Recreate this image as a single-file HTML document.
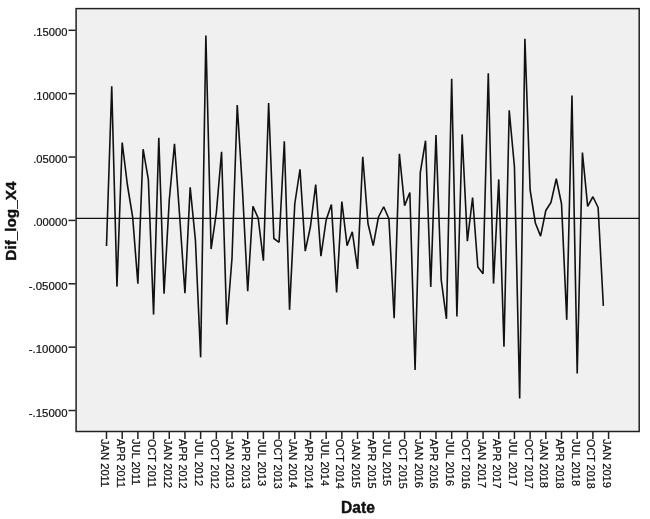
<!DOCTYPE html>
<html><head><meta charset="utf-8"><title>Dif_log_X4 sequence chart</title>
<style>html,body{margin:0;padding:0;background:#fff}svg{display:block}text{font-family:"Liberation Sans",sans-serif;fill:#111;stroke:#111;stroke-width:0.22px}text.t{stroke-width:0.4px}</style>
</head><body>
<svg width="650" height="519" viewBox="0 0 650 519">
<rect width="650" height="519" fill="#ffffff"/>
<g opacity="0.999">
<rect x="76.1" y="8.6" width="563.1" height="422.9" fill="#f0f0f0" stroke="#222" stroke-width="1.5"/>
<line x1="68.50" y1="30.30" x2="75.6" y2="30.30" stroke="#222" stroke-width="1.5"/>
<text transform="translate(67.5,36.30) scale(0.949,1)" font-size="11.8" text-anchor="end">.15000</text>
<line x1="68.50" y1="93.67" x2="75.6" y2="93.67" stroke="#222" stroke-width="1.5"/>
<text transform="translate(67.5,99.67) scale(0.949,1)" font-size="11.8" text-anchor="end">.10000</text>
<line x1="68.50" y1="157.04" x2="75.6" y2="157.04" stroke="#222" stroke-width="1.5"/>
<text transform="translate(67.5,163.04) scale(0.949,1)" font-size="11.8" text-anchor="end">.05000</text>
<line x1="68.50" y1="220.41" x2="75.6" y2="220.41" stroke="#222" stroke-width="1.5"/>
<text transform="translate(67.5,226.41) scale(0.949,1)" font-size="11.8" text-anchor="end">.00000</text>
<line x1="68.50" y1="283.78" x2="75.6" y2="283.78" stroke="#222" stroke-width="1.5"/>
<text transform="translate(67.5,289.78) scale(0.968,1)" font-size="11.8" text-anchor="end">-.05000</text>
<line x1="68.50" y1="347.15" x2="75.6" y2="347.15" stroke="#222" stroke-width="1.5"/>
<text transform="translate(67.5,353.15) scale(0.968,1)" font-size="11.8" text-anchor="end">-.10000</text>
<line x1="68.50" y1="410.52" x2="75.6" y2="410.52" stroke="#222" stroke-width="1.5"/>
<text transform="translate(67.5,416.52) scale(0.968,1)" font-size="11.8" text-anchor="end">-.15000</text>
<line x1="106.50" y1="431.5" x2="106.50" y2="439.0" stroke="#222" stroke-width="1.5"/>
<text transform="translate(100.95,439.0) rotate(90) scale(0.972,1)" font-size="11.5">JAN 2011</text>
<line x1="122.19" y1="431.5" x2="122.19" y2="439.0" stroke="#222" stroke-width="1.5"/>
<text transform="translate(116.64,439.0) rotate(90) scale(0.947,1)" font-size="11.5">APR 2011</text>
<line x1="137.88" y1="431.5" x2="137.88" y2="439.0" stroke="#222" stroke-width="1.5"/>
<text transform="translate(132.33,439.0) rotate(90) scale(0.965,1)" font-size="11.5">JUL 2011</text>
<line x1="153.57" y1="431.5" x2="153.57" y2="439.0" stroke="#222" stroke-width="1.5"/>
<text transform="translate(148.02,439.0) rotate(90) scale(0.94,1)" font-size="11.5">OCT 2011</text>
<line x1="169.26" y1="431.5" x2="169.26" y2="439.0" stroke="#222" stroke-width="1.5"/>
<text transform="translate(163.71,439.0) rotate(90) scale(0.972,1)" font-size="11.5">JAN 2012</text>
<line x1="184.95" y1="431.5" x2="184.95" y2="439.0" stroke="#222" stroke-width="1.5"/>
<text transform="translate(179.40,439.0) rotate(90) scale(0.947,1)" font-size="11.5">APR 2012</text>
<line x1="200.64" y1="431.5" x2="200.64" y2="439.0" stroke="#222" stroke-width="1.5"/>
<text transform="translate(195.09,439.0) rotate(90) scale(0.965,1)" font-size="11.5">JUL 2012</text>
<line x1="216.33" y1="431.5" x2="216.33" y2="439.0" stroke="#222" stroke-width="1.5"/>
<text transform="translate(210.78,439.0) rotate(90) scale(0.94,1)" font-size="11.5">OCT 2012</text>
<line x1="232.02" y1="431.5" x2="232.02" y2="439.0" stroke="#222" stroke-width="1.5"/>
<text transform="translate(226.47,439.0) rotate(90) scale(0.972,1)" font-size="11.5">JAN 2013</text>
<line x1="247.71" y1="431.5" x2="247.71" y2="439.0" stroke="#222" stroke-width="1.5"/>
<text transform="translate(242.16,439.0) rotate(90) scale(0.947,1)" font-size="11.5">APR 2013</text>
<line x1="263.40" y1="431.5" x2="263.40" y2="439.0" stroke="#222" stroke-width="1.5"/>
<text transform="translate(257.85,439.0) rotate(90) scale(0.965,1)" font-size="11.5">JUL 2013</text>
<line x1="279.09" y1="431.5" x2="279.09" y2="439.0" stroke="#222" stroke-width="1.5"/>
<text transform="translate(273.54,439.0) rotate(90) scale(0.94,1)" font-size="11.5">OCT 2013</text>
<line x1="294.78" y1="431.5" x2="294.78" y2="439.0" stroke="#222" stroke-width="1.5"/>
<text transform="translate(289.23,439.0) rotate(90) scale(0.972,1)" font-size="11.5">JAN 2014</text>
<line x1="310.47" y1="431.5" x2="310.47" y2="439.0" stroke="#222" stroke-width="1.5"/>
<text transform="translate(304.92,439.0) rotate(90) scale(0.947,1)" font-size="11.5">APR 2014</text>
<line x1="326.16" y1="431.5" x2="326.16" y2="439.0" stroke="#222" stroke-width="1.5"/>
<text transform="translate(320.61,439.0) rotate(90) scale(0.965,1)" font-size="11.5">JUL 2014</text>
<line x1="341.85" y1="431.5" x2="341.85" y2="439.0" stroke="#222" stroke-width="1.5"/>
<text transform="translate(336.30,439.0) rotate(90) scale(0.94,1)" font-size="11.5">OCT 2014</text>
<line x1="357.54" y1="431.5" x2="357.54" y2="439.0" stroke="#222" stroke-width="1.5"/>
<text transform="translate(351.99,439.0) rotate(90) scale(0.972,1)" font-size="11.5">JAN 2015</text>
<line x1="373.23" y1="431.5" x2="373.23" y2="439.0" stroke="#222" stroke-width="1.5"/>
<text transform="translate(367.68,439.0) rotate(90) scale(0.947,1)" font-size="11.5">APR 2015</text>
<line x1="388.92" y1="431.5" x2="388.92" y2="439.0" stroke="#222" stroke-width="1.5"/>
<text transform="translate(383.37,439.0) rotate(90) scale(0.965,1)" font-size="11.5">JUL 2015</text>
<line x1="404.61" y1="431.5" x2="404.61" y2="439.0" stroke="#222" stroke-width="1.5"/>
<text transform="translate(399.06,439.0) rotate(90) scale(0.94,1)" font-size="11.5">OCT 2015</text>
<line x1="420.30" y1="431.5" x2="420.30" y2="439.0" stroke="#222" stroke-width="1.5"/>
<text transform="translate(414.75,439.0) rotate(90) scale(0.972,1)" font-size="11.5">JAN 2016</text>
<line x1="435.99" y1="431.5" x2="435.99" y2="439.0" stroke="#222" stroke-width="1.5"/>
<text transform="translate(430.44,439.0) rotate(90) scale(0.947,1)" font-size="11.5">APR 2016</text>
<line x1="451.68" y1="431.5" x2="451.68" y2="439.0" stroke="#222" stroke-width="1.5"/>
<text transform="translate(446.13,439.0) rotate(90) scale(0.965,1)" font-size="11.5">JUL 2016</text>
<line x1="467.37" y1="431.5" x2="467.37" y2="439.0" stroke="#222" stroke-width="1.5"/>
<text transform="translate(461.82,439.0) rotate(90) scale(0.94,1)" font-size="11.5">OCT 2016</text>
<line x1="483.06" y1="431.5" x2="483.06" y2="439.0" stroke="#222" stroke-width="1.5"/>
<text transform="translate(477.51,439.0) rotate(90) scale(0.972,1)" font-size="11.5">JAN 2017</text>
<line x1="498.75" y1="431.5" x2="498.75" y2="439.0" stroke="#222" stroke-width="1.5"/>
<text transform="translate(493.20,439.0) rotate(90) scale(0.947,1)" font-size="11.5">APR 2017</text>
<line x1="514.44" y1="431.5" x2="514.44" y2="439.0" stroke="#222" stroke-width="1.5"/>
<text transform="translate(508.89,439.0) rotate(90) scale(0.965,1)" font-size="11.5">JUL 2017</text>
<line x1="530.13" y1="431.5" x2="530.13" y2="439.0" stroke="#222" stroke-width="1.5"/>
<text transform="translate(524.58,439.0) rotate(90) scale(0.94,1)" font-size="11.5">OCT 2017</text>
<line x1="545.82" y1="431.5" x2="545.82" y2="439.0" stroke="#222" stroke-width="1.5"/>
<text transform="translate(540.27,439.0) rotate(90) scale(0.972,1)" font-size="11.5">JAN 2018</text>
<line x1="561.51" y1="431.5" x2="561.51" y2="439.0" stroke="#222" stroke-width="1.5"/>
<text transform="translate(555.96,439.0) rotate(90) scale(0.947,1)" font-size="11.5">APR 2018</text>
<line x1="577.20" y1="431.5" x2="577.20" y2="439.0" stroke="#222" stroke-width="1.5"/>
<text transform="translate(571.65,439.0) rotate(90) scale(0.965,1)" font-size="11.5">JUL 2018</text>
<line x1="592.89" y1="431.5" x2="592.89" y2="439.0" stroke="#222" stroke-width="1.5"/>
<text transform="translate(587.34,439.0) rotate(90) scale(0.94,1)" font-size="11.5">OCT 2018</text>
<line x1="608.58" y1="431.5" x2="608.58" y2="439.0" stroke="#222" stroke-width="1.5"/>
<text transform="translate(603.03,439.0) rotate(90) scale(0.972,1)" font-size="11.5">JAN 2019</text>
<line x1="76.1" y1="218.3" x2="639.2" y2="218.3" stroke="#111" stroke-width="1.3"/>
<polyline fill="none" stroke="#111" stroke-width="1.6" stroke-linejoin="bevel" points="106.50,246.00 111.73,86.25 116.96,286.60 122.19,142.50 127.42,185.00 132.65,217.00 137.88,283.60 143.11,149.20 148.34,179.30 153.57,314.60 158.80,137.80 164.03,293.60 169.26,200.00 174.49,143.80 179.72,217.00 184.95,293.10 190.18,187.30 195.41,240.00 200.64,357.35 205.87,35.50 211.10,249.10 216.33,213.00 221.56,151.75 226.79,324.60 232.02,258.00 237.25,105.00 242.48,190.00 247.71,291.10 252.94,206.40 258.17,218.00 263.40,260.60 268.63,103.00 273.86,238.50 279.09,242.30 284.32,141.25 289.55,309.85 294.78,203.75 300.01,169.25 305.24,251.10 310.47,226.50 315.70,184.50 320.93,256.10 326.16,220.00 331.39,204.50 336.62,292.35 341.85,201.50 347.08,245.60 352.31,231.75 357.54,268.85 362.77,156.75 368.00,223.75 373.23,245.60 378.46,217.00 383.69,206.75 388.92,218.75 394.15,318.10 399.38,153.75 404.61,205.60 409.84,192.50 415.07,370.10 420.30,172.50 425.53,140.75 430.76,286.85 435.99,135.00 441.22,280.00 446.45,318.85 451.68,78.75 456.91,316.60 462.14,134.40 467.37,241.10 472.60,197.50 477.83,267.00 483.06,273.85 488.29,73.25 493.52,283.60 498.75,179.40 503.98,346.85 509.21,110.25 514.44,166.80 519.67,398.60 524.90,38.75 530.13,190.00 535.36,223.00 540.59,236.10 545.82,210.50 551.05,202.20 556.28,178.75 561.51,203.75 566.74,319.85 571.97,95.50 577.20,373.60 582.43,152.50 587.66,206.35 592.89,196.75 598.12,207.50 603.35,305.90"/>
<text transform="translate(15.9,221.1) rotate(-90)" font-size="15.3" class="t" font-weight="bold" text-anchor="middle">Dif_log_X4</text>
<text x="358.0" y="513.1" font-size="15.6" class="t" font-weight="bold" text-anchor="middle">Date</text>
</g></svg></body></html>
